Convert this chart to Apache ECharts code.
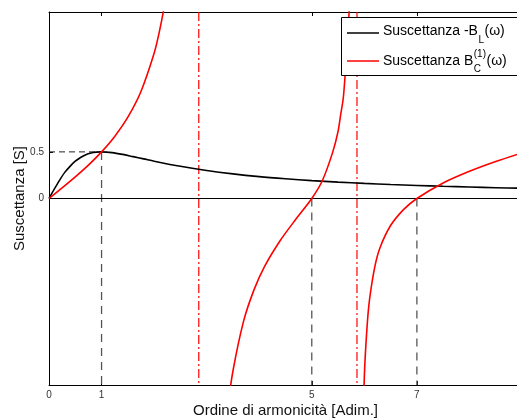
<!DOCTYPE html>
<html>
<head>
<meta charset="utf-8">
<script src="https://cdn.jsdelivr.net/npm/echarts@6/dist/echarts.min.js"></script>
<style>html,body{margin:0;padding:0;background:#fff;}#c{width:517px;height:418px;}</style>
</head>
<body>
<div id="c"></div>
<script>
// Black curve: -B_L(omega)
const omegaBL = [0, 0.1, 0.2, 0.3, 0.4, 0.5, 0.6, 0.7, 0.8, 0.9, 1, 1.2, 1.4, 1.6, 1.8, 2, 2.5, 3, 3.5, 4, 4.5, 5, 5.5, 6, 6.5, 7, 7.5, 8, 8.5, 9];
const valuesBL = [0, 0.1, 0.195, 0.28, 0.345, 0.4, 0.44, 0.47, 0.488, 0.497, 0.5, 0.492, 0.473, 0.449, 0.425, 0.4, 0.345, 0.3, 0.264, 0.235, 0.212, 0.192, 0.176, 0.162, 0.15, 0.14, 0.131, 0.123, 0.116, 0.11];

// Red curve: B_C^(1)(omega), three branches between the poles
const omegaBC1 = [0, 0.25, 0.5, 0.75, 1, 1.25, 1.5, 1.75, 2, 2.1, 2.2, 2.3, 2.4];
const valuesBC1 = [0, 0.114, 0.232, 0.358, 0.5, 0.666, 0.872, 1.148, 1.557, 1.789, 2.085, 2.48, 3.05];
const omegaBC2 = [3.3, 3.4, 3.5, 3.7, 3.9, 4.1, 4.4, 4.7, 5, 5.2, 5.4, 5.5, 5.55, 5.6, 5.65, 5.7, 5.73, 5.78];
const valuesBC2 = [-2.81, -2.25, -1.85, -1.32, -0.98, -0.73, -0.45, -0.22, 0, 0.19, 0.5, 0.72, 0.9, 1.08, 1.45, 1.9, 2.2, 3.2];
const omegaBC3 = [5.95, 6.0, 6.05, 6.1, 6.2, 6.3, 6.5, 6.75, 7, 7.5, 8, 8.5, 9];
const valuesBC3 = [-3.0, -1.91, -1.39, -1.08, -0.73, -0.525, -0.29, -0.117, 0, 0.166, 0.291, 0.396, 0.489];

// Reference marks
const guideX = [1, 5, 7];
const guideTop = [0.5, 0, 0];
const asymptotes = [2.85, 5.86];
const xTickLabels = [0, 1, 5, 7];
const xTicks = [1, 5, 7];
const yTickLabels = [0, 0.5];

const FONT = '"Liberation Sans", Arial, Helvetica, sans-serif';
const zip = (xs, ys) => xs.map((x, i) => [x, ys[i]]);

const redData = zip(omegaBC1, valuesBC1).concat([[2.6, null]], zip(omegaBC2, valuesBC2), [[5.9, null]], zip(omegaBC3, valuesBC3));

const series = [];
guideX.forEach((x, i) => {
  series.push({
    type: 'line', silent: true, symbol: 'none', animation: false, z: 1,
    data: [[x, guideTop[i]], [x, -2]],
    lineStyle: { color: '#555', width: 1.3, type: [8, 6] }
  });
});
series.push({
  type: 'line', silent: true, symbol: 'none', animation: false, z: 1,
  data: [[0, 0.5], [guideX[0], 0.5]],
  lineStyle: { color: '#222', width: 1, type: [6, 4] }
});
series.push({
  type: 'line', silent: true, symbol: 'none', animation: false, z: 2,
  data: [[0, 0], [9, 0]],
  lineStyle: { color: '#000', width: 1 }
});
asymptotes.forEach(x => {
  series.push({
    type: 'line', silent: true, symbol: 'none', animation: false, z: 3,
    data: [[x, 2], [x, -2]],
    lineStyle: { color: '#ff0000', width: 1.2, type: [9, 3, 2, 3] }
  });
});
series.push({
  name: 'Suscettanza -B_L(ω)', type: 'line', symbol: 'none', animation: false, z: 4, smooth: 0.3,
  data: zip(omegaBL, valuesBL), clip: true,
  lineStyle: { color: '#000', width: 1.6 }
});
series.push({
  name: 'Suscettanza B_C^(1)(ω)', type: 'line', symbol: 'none', animation: false, z: 5, smooth: 0.3,
  data: redData, connectNulls: false, clip: true,
  lineStyle: { color: '#ff0000', width: 1.6 }
});

// legend text layout helpers (measure to place sub/superscripts)
const mctx = document.createElement('canvas').getContext('2d');
function tw(text, size) { mctx.font = size + 'px ' + FONT; return mctx.measureText(text).width; }
const LX = 383;
const row1Main = 'Suscettanza -B';
const row2Main = 'Suscettanza B';
const r1x = LX + tw(row1Main, 14) + 0.5;
const r2x = LX + tw(row2Main, 14) + 0.5;
const r1end = r1x + tw('L', 10) + 0.5;
const r2end = r2x + Math.max(tw('(1)', 10), tw('C', 10)) + 0.5;

const chart = echarts.init(document.getElementById('c'), null, { renderer: 'canvas' });
chart.setOption({
  animation: false,
  backgroundColor: '#fff',
  grid: { left: 49, right: -5, top: 12, bottom: 33, containLabel: false, outerBoundsMode: 'none', show: false },
  xAxis: [{
    type: 'value', min: 0, max: 9, position: 'bottom',
    name: 'Ordine di armonicità [Adim.]', nameLocation: 'middle', nameGap: 18, nameMoveOverlap: false,
    nameTextStyle: { fontFamily: FONT, fontSize: 15, color: '#111' },
    axisLine: { show: true, onZero: false, lineStyle: { color: '#000', width: 1 } },
    axisTick: { show: true, inside: true, length: 4, customValues: xTicks, lineStyle: { color: '#000' } },
    axisLabel: { show: true, customValues: xTickLabels, margin: 5, fontFamily: FONT, fontSize: 10, color: '#333' },
    splitLine: { show: false }
  }, {
    type: 'value', min: 0, max: 9, position: 'top',
    axisLine: { show: true, onZero: false, lineStyle: { color: '#000', width: 1 } },
    axisTick: { show: true, inside: true, length: 4, customValues: xTicks, lineStyle: { color: '#000' } },
    axisLabel: { show: false },
    splitLine: { show: false }
  }],
  yAxis: [{
    type: 'value', min: -2, max: 2, position: 'left',
    name: 'Suscettanza [S]', nameLocation: 'middle', nameGap: 22, nameRotate: 90, nameMoveOverlap: false,
    nameTextStyle: { fontFamily: FONT, fontSize: 15, color: '#111' },
    axisLine: { show: true, onZero: false, lineStyle: { color: '#000', width: 1 } },
    axisTick: { show: true, inside: true, length: 4, customValues: yTickLabels, lineStyle: { color: '#000' } },
    axisLabel: { show: true, customValues: yTickLabels, margin: 5, fontFamily: FONT, fontSize: 10, color: '#333' },
    splitLine: { show: false }
  }],
  series: series,
  graphic: [{
    type: 'group', z: 100,
    children: [
      { type: 'rect', shape: { x: 341.5, y: 17.5, width: 185, height: 58 }, style: { fill: '#fff', stroke: '#000', lineWidth: 1 }, z: 100 },
      { type: 'line', shape: { x1: 347, y1: 33, x2: 379, y2: 33 }, style: { stroke: '#000', lineWidth: 1.5 }, z: 101 },
      { type: 'line', shape: { x1: 347, y1: 61, x2: 379, y2: 61 }, style: { stroke: '#ff0000', lineWidth: 1.5 }, z: 101 },
      { type: 'text', x: LX, y: 31, z: 101, style: { text: row1Main, font: '14px ' + FONT, fill: '#000', verticalAlign: 'middle', align: 'left' } },
      { type: 'text', x: r1x, y: 40, z: 101, style: { text: 'L', font: '10px ' + FONT, fill: '#000', verticalAlign: 'middle', align: 'left' } },
      { type: 'text', x: r1end, y: 31, z: 101, style: { text: '(ω)', font: '14px ' + FONT, fill: '#000', verticalAlign: 'middle', align: 'left' } },
      { type: 'text', x: LX, y: 61.5, z: 101, style: { text: row2Main, font: '14px ' + FONT, fill: '#000', verticalAlign: 'middle', align: 'left' } },
      { type: 'text', x: r2x, y: 54, z: 101, style: { text: '(1)', font: '10px ' + FONT, fill: '#000', verticalAlign: 'middle', align: 'left' } },
      { type: 'text', x: r2x, y: 69, z: 101, style: { text: 'C', font: '10px ' + FONT, fill: '#000', verticalAlign: 'middle', align: 'left' } },
      { type: 'text', x: r2end, y: 61.5, z: 101, style: { text: '(ω)', font: '14px ' + FONT, fill: '#000', verticalAlign: 'middle', align: 'left' } }
    ]
  }]
});
</script>
</body>
</html>
